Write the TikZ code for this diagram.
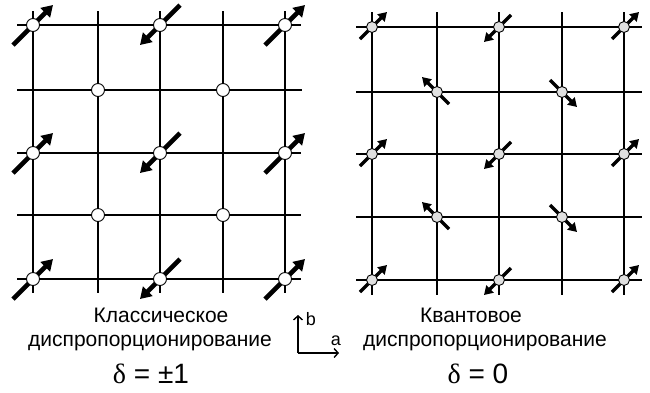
\documentclass[tikz,border=0pt]{standalone}
\usepackage{fontspec}
\setmainfont{Liberation Sans}
\newfontfamily\greekfont{Liberation Serif}
\usetikzlibrary{arrows.meta,backgrounds}

\begin{document}
\begin{tikzpicture}[
  x=1pt, y=-1pt,
  lattice/.style={line width=2.2pt, draw=black},
  spinbig/.style={-{Triangle[length=11pt,width=13pt]}, line width=4.6pt},
  spinsmall/.style={-{Triangle[length=8.5pt,width=10pt]}, line width=3.5pt},
  siteclass/.style={circle, draw, line width=0.9pt, fill=white,
                    minimum size=13pt, inner sep=0pt},
  sitequant/.style={circle, draw, line width=0.9pt, fill=black!12,
                    minimum size=11pt, inner sep=0pt},
  axis/.style={-{Straight Barb[length=4pt,width=9pt]}, line width=1.4pt},
  caption/.style={font=\fontsize{21}{25}\selectfont, anchor=base, inner sep=0pt},
  delta/.style={font=\fontsize{28}{32}\selectfont, anchor=base, inner sep=0pt}
]
\useasboundingbox (0,0) rectangle (650,392);

% classical lattice: sites
\node[siteclass] (k11) at (33,25) {};
\node[siteclass] (k13) at (160,25) {};
\node[siteclass] (k15) at (285,25) {};
\node[siteclass] (k22) at (98,90) {};
\node[siteclass] (k24) at (223,90) {};
\node[siteclass] (k31) at (33,153) {};
\node[siteclass] (k33) at (160,153) {};
\node[siteclass] (k35) at (285,153) {};
\node[siteclass] (k42) at (98,215) {};
\node[siteclass] (k44) at (223,215) {};
\node[siteclass] (k51) at (33,279) {};
\node[siteclass] (k53) at (160,279) {};
\node[siteclass] (k55) at (285,279) {};

% quantum lattice: sites
\node[sitequant] (q11) at (372,27) {};
\node[sitequant] (q13) at (499,27) {};
\node[sitequant] (q15) at (624,27) {};
\node[sitequant] (q22) at (437,92) {};
\node[sitequant] (q24) at (562,92) {};
\node[sitequant] (q31) at (372,154) {};
\node[sitequant] (q33) at (499,154) {};
\node[sitequant] (q35) at (624,154) {};
\node[sitequant] (q42) at (437,217) {};
\node[sitequant] (q44) at (562,217) {};
\node[sitequant] (q51) at (372,280) {};
\node[sitequant] (q53) at (499,280) {};
\node[sitequant] (q55) at (624,280) {};

\begin{scope}[on background layer]
  % grid lines
  \draw[lattice] (33,11) -- (33,293) (98,11) -- (98,293) (160,11) -- (160,293)
                 (223,11) -- (223,293) (285,11) -- (285,293);
  \draw[lattice] (17,25) -- (301,25) (17,90) -- (302,90) (17,153) -- (301,153)
                 (17,215) -- (301,215) (17,279) -- (301,279);
  \draw[lattice] (372,12) -- (372,295) (437,12) -- (437,295) (499,12) -- (499,295)
                 (562,12) -- (562,295) (624,12) -- (624,295);
  \draw[lattice] (356,27) -- (642,27) (356,92) -- (642,92) (356,154) -- (642,154)
                 (356,217) -- (642,217) (356,280) -- (642,280);

  % classical spins
  \draw[spinbig] ([shift={(-20,20)}]k11.center) -- ([shift={(20,-20)}]k11.center);
  \draw[spinbig] ([shift={(20,-20)}]k13.center) -- ([shift={(-20,20)}]k13.center);
  \draw[spinbig] ([shift={(-20,20)}]k15.center) -- ([shift={(20,-20)}]k15.center);
  \draw[spinbig] ([shift={(-20,20)}]k31.center) -- ([shift={(20,-20)}]k31.center);
  \draw[spinbig] ([shift={(20,-20)}]k33.center) -- ([shift={(-20,20)}]k33.center);
  \draw[spinbig] ([shift={(-20,20)}]k35.center) -- ([shift={(20,-20)}]k35.center);
  \draw[spinbig] ([shift={(-20,20)}]k51.center) -- ([shift={(20,-20)}]k51.center);
  \draw[spinbig] ([shift={(20,-20)}]k53.center) -- ([shift={(-20,20)}]k53.center);
  \draw[spinbig] ([shift={(-20,20)}]k55.center) -- ([shift={(20,-20)}]k55.center);

  % quantum spins
  \draw[spinsmall] ([shift={(-12,12)}]q11.center) -- ([shift={(15,-15)}]q11.center);
  \draw[spinsmall] ([shift={(12,-12)}]q13.center) -- ([shift={(-15,15)}]q13.center);
  \draw[spinsmall] ([shift={(-12,12)}]q15.center) -- ([shift={(15,-15)}]q15.center);
  \draw[spinsmall] ([shift={(12,12)}]q22.center) -- ([shift={(-15,-15)}]q22.center);
  \draw[spinsmall] ([shift={(-12,-12)}]q24.center) -- ([shift={(15,15)}]q24.center);
  \draw[spinsmall] ([shift={(-12,12)}]q31.center) -- ([shift={(15,-15)}]q31.center);
  \draw[spinsmall] ([shift={(12,-12)}]q33.center) -- ([shift={(-15,15)}]q33.center);
  \draw[spinsmall] ([shift={(-12,12)}]q35.center) -- ([shift={(15,-15)}]q35.center);
  \draw[spinsmall] ([shift={(12,12)}]q42.center) -- ([shift={(-15,-15)}]q42.center);
  \draw[spinsmall] ([shift={(-12,-12)}]q44.center) -- ([shift={(15,15)}]q44.center);
  \draw[spinsmall] ([shift={(-12,12)}]q51.center) -- ([shift={(15,-15)}]q51.center);
  \draw[spinsmall] ([shift={(12,-12)}]q53.center) -- ([shift={(-15,15)}]q53.center);
  \draw[spinsmall] ([shift={(-12,12)}]q55.center) -- ([shift={(15,-15)}]q55.center);
\end{scope}

% captions
\node[caption] (ktitle) at (161,322) {Классическое};
\node[caption] (kname) at (150,346) {диспропорционирование};
\node[delta] (kdelta) at (151,383) {{\greekfont δ} = ±1};
\node[caption] (qtitle) at (471,322) {Квантовое};
\node[caption] (qname) at (485,346) {диспропорционирование};
\node[delta] (qdelta) at (478,383) {{\greekfont δ} = 0};

% axes
\coordinate (origin) at (298,353);
\node[caption, font=\fontsize{18}{20}\selectfont] (blabel) at (311,325) {b};
\node[caption, font=\fontsize{18}{20}\selectfont] (alabel) at (336,345) {a};
\draw[axis] (origin) -- ++(0,-38);
\draw[axis] (origin) -- ++(41,0);

\end{tikzpicture}
\end{document}
